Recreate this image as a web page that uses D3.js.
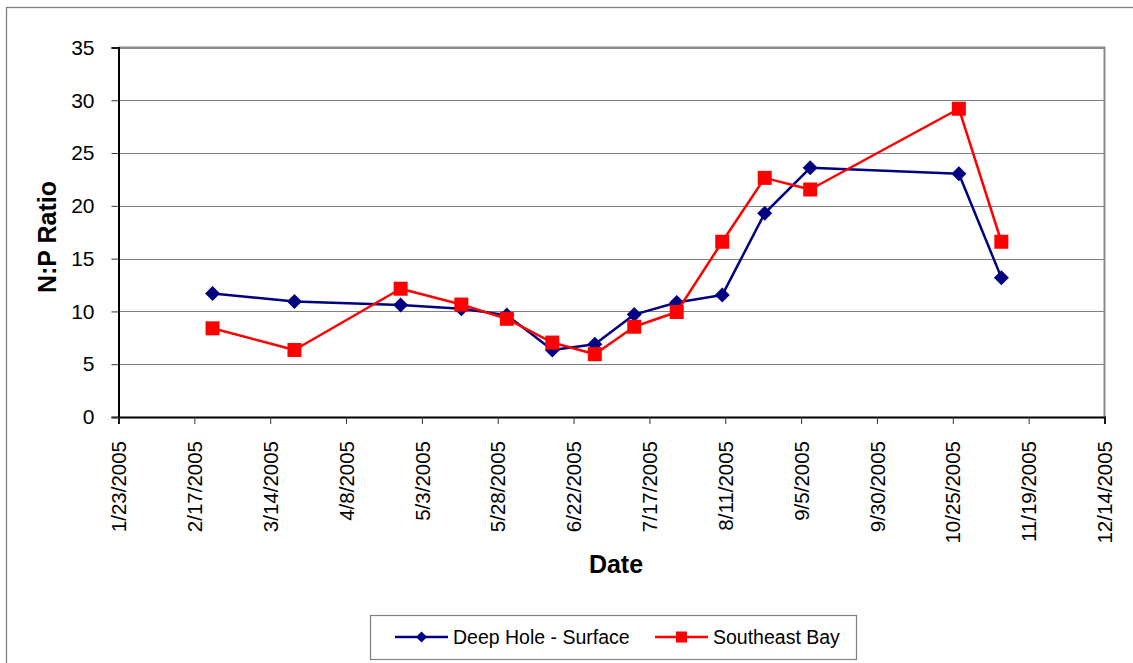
<!DOCTYPE html>
<html>
<head>
<meta charset="utf-8">
<script src="https://cdn.jsdelivr.net/npm/d3@7"></script>
<style>
  html, body { margin: 0; padding: 0; background: #fff; }
  svg { display: block; font-family: Arial, "Liberation Sans", sans-serif; }
</style>
</head>
<body>
<svg id="chart" width="1133" height="663"></svg>
<script>
// Sampling dates shared by both stations
const sampleDates = ["2/23/2005","3/22/2005","4/26/2005","5/16/2005","5/31/2005","6/15/2005","6/29/2005",
                     "7/12/2005","7/26/2005","8/10/2005","8/24/2005","9/8/2005","10/27/2005","11/10/2005"];
// N:P ratio per station
const deepHoleSurface = [11.7, 10.95, 10.6, 10.25, 9.65, 6.35, 6.9, 9.7, 10.85, 11.55, 19.3, 23.6, 23.05, 13.2];
const southeastBay    = [8.4, 6.35, 12.15, 10.65, 9.3, 7.05, 5.95, 8.55, 9.95, 16.6, 22.65, 21.55, 29.2, 16.6];
// Axis ticks
const xTickLabels = ["1/23/2005","2/17/2005","3/14/2005","4/8/2005","5/3/2005","5/28/2005","6/22/2005",
                     "7/17/2005","8/11/2005","9/5/2005","9/30/2005","10/25/2005","11/19/2005","12/14/2005"];
const yTickValues = [0, 5, 10, 15, 20, 25, 30, 35];
const seriesNames = ["Deep Hole - Surface", "Southeast Bay"];

const parse = d3.utcParse("%m/%d/%Y");
const svg = d3.select("#chart");

const plot = { left: 118.5, right: 1104.5, top: 47.5, bottom: 417 };

const x = d3.scaleUtc()
  .domain([parse(xTickLabels[0]), parse(xTickLabels[xTickLabels.length - 1])])
  .range([plot.left, plot.right]);
const y = d3.scaleLinear().domain([0, 35]).range([plot.bottom, plot.top]);

// Outer chart frame
svg.append("rect")
  .attr("x", 6.5).attr("y", 7.5).attr("width", 1140).attr("height", 670)
  .attr("fill", "#fff").attr("stroke", "#808080").attr("stroke-width", 1.3);

// Horizontal gridlines
svg.append("g").selectAll("line")
  .data(yTickValues.filter(v => v > 0))
  .join("line")
  .attr("x1", plot.left).attr("x2", plot.right)
  .attr("y1", d => Math.round(y(d)) + 0.5).attr("y2", d => Math.round(y(d)) + 0.5)
  .attr("stroke", "#808080").attr("stroke-width", 1.2);

// Plot area border (top and right)
svg.append("path")
  .attr("d", `M${plot.left},${plot.top}H${plot.right}V${plot.bottom}`)
  .attr("fill", "none").attr("stroke", "#8a8a8a").attr("stroke-width", 2);

// Y axis
const yAxis = d3.axisLeft(y).tickValues(yTickValues).tickSize(7).tickPadding(17);
const gy = svg.append("g").attr("transform", `translate(${plot.left},0)`).call(yAxis);
gy.select(".domain").attr("stroke", "#000").attr("stroke-width", 2);
gy.selectAll(".tick line").attr("stroke", "#333").attr("stroke-width", 1);
gy.selectAll(".tick text").attr("font-size", 21).attr("fill", "#000")
  .attr("font-family", "Arial, 'Liberation Sans', sans-serif");

// X axis
const xAxis = d3.axisBottom(x)
  .tickValues(xTickLabels.map(parse))
  .tickFormat((d, i) => xTickLabels[i])
  .tickSize(7);
const gx = svg.append("g").attr("transform", `translate(0,${plot.bottom})`).call(xAxis);
gx.select(".domain").attr("stroke", "#000").attr("stroke-width", 2);
gx.selectAll(".tick line").attr("stroke", "#333").attr("stroke-width", 1);
gx.selectAll(".tick text")
  .attr("font-size", 20.5).attr("fill", "#000")
  .attr("font-family", "Arial, 'Liberation Sans', sans-serif")
  .attr("transform", "rotate(-90)")
  .attr("text-anchor", "end")
  .attr("x", -24).attr("y", 0).attr("dy", "0.35em");

// Axis titles
svg.append("text")
  .attr("transform", "translate(56,237) rotate(-90)")
  .attr("text-anchor", "middle")
  .attr("font-size", 25).attr("font-weight", "bold")
  .text("N:P Ratio");
svg.append("text")
  .attr("x", 616).attr("y", 573)
  .attr("text-anchor", "middle")
  .attr("font-size", 25).attr("font-weight", "bold")
  .text("Date");

const dates = sampleDates.map(parse);
const line = d3.line().x(d => x(d[0])).y(d => y(d[1]));

const series = [
  { name: seriesNames[0], values: deepHoleSurface, color: "#000080", marker: "diamond" },
  { name: seriesNames[1], values: southeastBay, color: "#ff0000", marker: "square" }
];

function drawMarker(g, type, color) {
  if (type === "diamond") {
    g.append("path").attr("d", "M0,-7.5L7.5,0L0,7.5L-7.5,0Z").attr("fill", color);
  } else {
    g.append("rect").attr("x", -7).attr("y", -7).attr("width", 14).attr("height", 14).attr("fill", color);
  }
}

series.forEach(s => {
  const pts = dates.map((d, i) => [d, s.values[i]]);
  svg.append("path").datum(pts)
    .attr("d", line)
    .attr("fill", "none").attr("stroke", s.color).attr("stroke-width", 2.5)
    .attr("stroke-linejoin", "round");
  svg.append("g").selectAll("g")
    .data(pts).join("g")
    .attr("transform", d => `translate(${x(d[0])},${y(d[1])})`)
    .each(function () { drawMarker(d3.select(this), s.marker, s.color); });
});

// Legend
const legend = svg.append("g");
legend.append("rect")
  .attr("x", 370.5).attr("y", 615.5).attr("width", 486).attr("height", 44)
  .attr("fill", "#fff").attr("stroke", "#808080").attr("stroke-width", 1.2);
const legendItems = [
  { x0: 395, tx: 453 },
  { x0: 655, tx: 713 }
];
series.forEach((s, i) => {
  const it = legendItems[i];
  const g = legend.append("g");
  g.append("line").attr("x1", it.x0).attr("x2", it.x0 + 53)
    .attr("y1", 637).attr("y2", 637)
    .attr("stroke", s.color).attr("stroke-width", 2.5);
  const m = g.append("g").attr("transform", `translate(${it.x0 + 26.5},637)`);
  if (s.marker === "diamond") {
    m.append("path").attr("d", "M0,-5.5L5.5,0L0,5.5L-5.5,0Z").attr("fill", s.color);
  } else {
    m.append("rect").attr("x", -5.5).attr("y", -5.5).attr("width", 11).attr("height", 11).attr("fill", s.color);
  }
  g.append("text").attr("x", it.tx).attr("y", 637).attr("dy", "0.35em")
    .attr("font-size", 19.5).text(s.name);
});
</script>
</body>
</html>
